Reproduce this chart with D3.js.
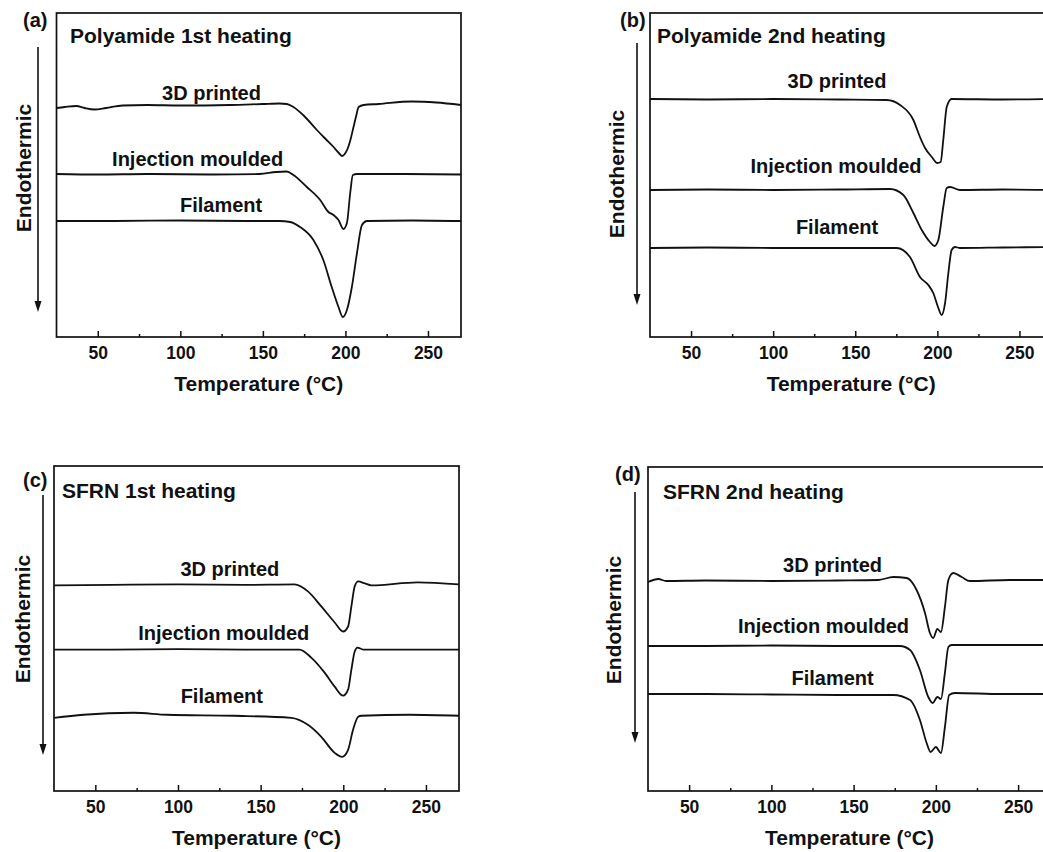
<!DOCTYPE html>
<html>
<head>
<meta charset="utf-8">
<script src="https://d3js.org/d3.v7.min.js"></script>
<style>
  body{ margin:0; background:white; }
  svg text{ font-family:"Liberation Sans", Arial, sans-serif; font-weight:bold; fill:#111; }
</style>
</head>
<body>
<script>

// ---- data (temperature in °C, heat flow in arbitrary units, endo down) ----
const seriesNames = ["3D printed", "Injection moulded", "Filament"];
const panelIds = ["(a)", "(b)", "(c)", "(d)"];
const panelTitles = ["Polyamide 1st heating", "Polyamide 2nd heating", "SFRN 1st heating", "SFRN 2nd heating"];
const xTicks = [50, 100, 150, 200, 250];
const xMinorTicks = [75, 125, 175, 225];

const aPrinted = [[25,22.9],[30,23.0],[37,23.1],[42,22.9],[48,22.75],[55,22.9],[65,23.15],[80,23.2],[100,23.15],[130,23.2],[150,23.3],[160,23.35],[164.5,23.3],[168.5,23.0],[175,22.1],[182.7,20.7],[188,19.8],[192.8,19.0],[196,18.4],[198,18.1],[200,18.4],[201.5,18.9],[203,19.7],[204.9,21.0],[206.5,22.1],[208,23.0],[211,23.2],[220,23.3],[240,23.55],[255,23.45],[270,23.2]];
const aInjection = [[25,16.3],[50,16.25],[80,16.3],[120,16.25],[148,16.3],[158,16.5],[164.4,16.55],[168.5,16.2],[176.6,15.0],[184.7,13.7],[189.7,12.5],[192.8,12.2],[195.8,11.7],[198.8,10.8],[200.9,11.4],[202.9,14.4],[204.5,16.2],[207,16.3],[230,16.3],[270,16.25]];
const aFilament = [[25,11.6],[60,11.6],[100,11.65],[140,11.6],[160,11.6],[166.5,11.5],[172.5,11.0],[180.6,9.7],[186.6,7.7],[191.7,5.0],[195.8,3.0],[198.4,2.0],[200.9,2.7],[203.9,5.0],[207,8.4],[210,11.2],[213,11.6],[240,11.65],[270,11.6]];

const bPrinted = [[25,23.8],[60,23.75],[100,23.8],[140,23.75],[169.1,23.7],[177.3,23.2],[185.4,21.7],[189.4,20.0],[192.5,18.9],[196.6,18.0],[200,17.4],[202,17.5],[203.6,19.7],[205.7,23.0],[208.7,23.8],[240,23.75],[270,23.8]];
const bInjection = [[25,14.7],[60,14.75],[100,14.7],[140,14.75],[171.2,14.8],[179.3,14.2],[185.4,12.4],[190.5,10.7],[195.5,9.5],[198.2,9.1],[200.6,9.7],[203.6,13.0],[205.7,14.9],[207.7,15.0],[213.8,14.7],[240,14.75],[270,14.7]];
const bFilament = [[25,8.9],[60,8.95],[100,8.9],[140,8.9],[175.2,8.9],[183.3,8.0],[189.4,6.0],[194.5,5.2],[197.5,4.4],[200.6,2.9],[202.6,2.2],[204.7,3.4],[206.7,6.4],[208.7,8.7],[210.7,9.0],[213.8,8.9],[240,8.95],[270,9.0]];

const cPrinted = [[25,20.5],[60,20.55],[100,20.6],[140,20.55],[170.5,20.6],[178.6,19.9],[186.7,18.4],[194.8,16.8],[199.9,15.9],[202.9,16.4],[204.9,18.4],[206.9,20.4],[209,20.9],[213,20.7],[217,20.5],[245,20.8],[270,20.6]];
const cInjection = [[25,14.1],[60,14.1],[100,14.15],[140,14.1],[173.5,14.1],[180.6,13.3],[188.7,11.8],[194.8,10.4],[199.9,9.5],[202.9,10.1],[204.9,12.1],[206.9,13.9],[208.6,14.3],[212,14.1],[240,14.1],[270,14.1]];
const cFilament = [[25,7.3],[42.8,7.6],[73.2,7.8],[93.5,7.6],[134,7.5],[168.5,7.3],[178.6,6.6],[186.7,5.4],[194.8,3.8],[199.3,3.4],[202.9,4.1],[205.9,6.1],[209,7.4],[211,7.5],[240,7.6],[270,7.5]];

const dPrinted = [[25,20.9],[31.3,21.2],[36,21.0],[60,21.05],[100,21.0],[140,21.05],[165,21.1],[174.1,21.4],[182.3,21.3],[188.3,20.1],[193.4,17.8],[196.4,15.8],[198.4,15.3],[200.9,16.2],[203.1,15.9],[205.5,18.4],[207.6,21.1],[210.6,21.8],[215.7,21.4],[220.7,21.0],[245,21.1],[270,21.1]];
const dInjection = [[25,14.5],[60,14.5],[100,14.55],[140,14.5],[178.2,14.5],[184.3,14.1],[190.3,12.1],[195.4,9.4],[198.1,8.8],[200.9,9.4],[203.1,9.2],[205.5,11.8],[207.6,14.4],[209.6,14.6],[240,14.6],[270,14.6]];
const dFilament = [[25,9.7],[60,9.7],[100,9.65],[140,9.6],[174.1,9.6],[184.3,9.1],[190.3,7.1],[194.4,4.8],[196.8,3.9],[200,4.4],[203.1,3.8],[205.5,6.4],[208.1,9.6],[211.5,9.8],[240,9.7],[270,9.7]];

// label anchor points [°C, a.u.] for each curve name
const aLabels = [[118.9,23.7],[110.5,17.1],[124.7,12.5]];
const bLabels = [[138.9,24.9],[138.3,16.4],[138.9,10.3]];
const cLabels = [[131.4,21.4],[127.7,15.1],[126.5,8.8]];
const dLabels = [[137.2,21.9],[131.7,15.8],[137.2,10.6]];

// ---- layout ----
const layout = [
  {left:56.5, right:461, top:13, bottom:337, series:[aPrinted,aInjection,aFilament], labels:aLabels,
   idX:23, idY:27, titleX:70, titleY:43, arrowX:38, arrowTop:47, arrowBot:312, endoX:31, endoY:168},
  {left:650, right:1052.3, top:13, bottom:337, series:[bPrinted,bInjection,bFilament], labels:bLabels,
   idX:620, idY:27, titleX:657, titleY:43, arrowX:637, arrowTop:43, arrowBot:305, endoX:624, endoY:174},
  {left:54, right:459, top:466, bottom:791, series:[cPrinted,cInjection,cFilament], labels:cLabels,
   idX:23, idY:487, titleX:62, titleY:498, arrowX:43, arrowTop:495, arrowBot:755, endoX:30, endoY:619},
  {left:648, right:1051, top:467, bottom:791, series:[dPrinted,dInjection,dFilament], labels:dLabels,
   idX:615, idY:481, titleX:663, titleY:499, arrowX:635, arrowTop:492, arrowBot:743, endoX:621, endoY:620}
];

const svg = d3.select("body").append("svg").attr("width", 1043).attr("height", 852);

layout.forEach((p, i) => {
  const x = d3.scaleLinear().domain([25, 270]).range([p.left, p.right]);
  const y = d3.scaleLinear().domain([0, 32.4]).range([p.bottom, p.top]);
  const g = svg.append("g");

  // frame
  g.append("rect")
    .attr("x", p.left).attr("y", p.top)
    .attr("width", p.right - p.left).attr("height", p.bottom - p.top)
    .attr("fill", "none").attr("stroke", "#111").attr("stroke-width", 1.7);

  // major ticks (inward) + labels
  const ax = g.append("g").attr("transform", `translate(0,${p.bottom})`)
    .call(d3.axisBottom(x).tickValues(xTicks).tickSize(-6).tickPadding(10).tickFormat(d3.format("d")));
  ax.select(".domain").remove();
  ax.selectAll(".tick line").attr("stroke", "#111").attr("stroke-width", 1.5);
  ax.selectAll(".tick text").attr("font-size", 17.5).attr("fill", "#111")
    .attr("font-family", "'Liberation Sans', Arial, sans-serif").attr("font-weight", "bold");

  // minor ticks
  const mx = g.append("g").attr("transform", `translate(0,${p.bottom})`)
    .call(d3.axisBottom(x).tickValues(xMinorTicks).tickSize(-3).tickFormat(""));
  mx.select(".domain").remove();
  mx.selectAll(".tick line").attr("stroke", "#111").attr("stroke-width", 1.5);

  // x axis title
  g.append("text")
    .attr("x", (p.left + Math.min(p.right, p.left + 405)) / 2).attr("y", p.bottom + 54)
    .attr("text-anchor", "middle").attr("font-size", 21)
    .text("Temperature (°C)");

  // curves
  const line = d3.line().x(d => x(d[0])).y(d => y(d[1])).curve(d3.curveMonotoneX);
  g.selectAll("path.curve").data(p.series).enter().append("path")
    .attr("class", "curve")
    .attr("d", line)
    .attr("fill", "none").attr("stroke", "#111").attr("stroke-width", 1.8)
    .attr("stroke-linejoin", "round");

  // curve names
  g.selectAll("text.name").data(p.labels).enter().append("text")
    .attr("class", "name")
    .attr("x", d => x(d[0])).attr("y", d => y(d[1]))
    .attr("text-anchor", "middle").attr("font-size", 20)
    .text((d, k) => seriesNames[k]);

  // panel id + title
  g.append("text").attr("x", p.idX).attr("y", p.idY).attr("font-size", 20).text(panelIds[i]);
  g.append("text").attr("x", p.titleX).attr("y", p.titleY).attr("font-size", 21).text(panelTitles[i]);

  // endothermic arrow
  g.append("line")
    .attr("x1", p.arrowX).attr("x2", p.arrowX)
    .attr("y1", p.arrowTop).attr("y2", p.arrowBot - 8)
    .attr("stroke", "#111").attr("stroke-width", 1.6);
  g.append("path")
    .attr("d", `M${p.arrowX - 3.5},${p.arrowBot - 11} L${p.arrowX + 3.5},${p.arrowBot - 11} L${p.arrowX},${p.arrowBot} Z`)
    .attr("fill", "#111");

  g.append("text")
    .attr("transform", `translate(${p.endoX},${p.endoY}) rotate(-90)`)
    .attr("text-anchor", "middle").attr("font-size", 21)
    .text("Endothermic");
});

</script>
</body>
</html>
